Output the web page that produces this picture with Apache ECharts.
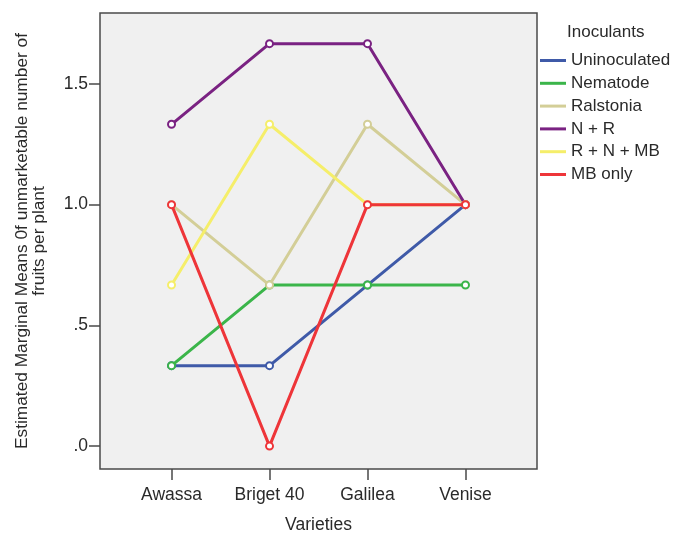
<!DOCTYPE html>
<html>
<head>
<meta charset="utf-8">
<script src="https://cdn.jsdelivr.net/npm/echarts@6/dist/echarts.min.js"></script>
<style>html,body{margin:0;padding:0;background:#fff}#c{width:689px;height:534px}</style>
</head>
<body>
<div id="c"></div>
<script>
const categories = ['Awassa', 'Briget 40', 'Galilea', 'Venise'];
const seriesNames = ['Uninoculated', 'Nematode', 'Ralstonia', 'N + R', 'R + N + MB', 'MB only'];
const uninoculated = [0.333, 0.333, 0.667, 1.0];
const nematode = [0.333, 0.667, 0.667, 0.667];
const ralstonia = [1.0, 0.667, 1.333, 1.0];
const nPlusR = [1.333, 1.667, 1.667, 1.0];
const rnmb = [0.667, 1.333, 1.0, 1.0];
const mbOnly = [1.0, 0.0, 1.0, 1.0];
const yTickValues = [0, 0.5, 1.0, 1.5];
const yTickLabels = ['.0', '.5', '1.0', '1.5'];

const seriesValues = [uninoculated, nematode, ralstonia, nPlusR, rnmb, mbOnly];
const colors = ['#3f5aa8', '#3bb54a', '#d3ce97', '#7a2282', '#f5ee6a', '#ee3539'];
const FONT = '"Liberation Sans", Arial, sans-serif';
const TXT = '#2a2a2a';
const catIdx = categories.map((c, i) => i);

const chart = echarts.init(document.getElementById('c'), null, {renderer: 'canvas'});
chart.setOption({
  animation: false,
  textStyle: {fontFamily: FONT},
  title: {
    text: 'Inoculants', left: 562, top: 19,
    textStyle: {fontFamily: FONT, fontSize: 17, fontWeight: 'normal', color: TXT}
  },
  legend: {
    orient: 'vertical', left: 535, top: 47,
    icon: 'rect', itemWidth: 26, itemHeight: 3, itemGap: 5.8,
    textStyle: {fontFamily: FONT, fontSize: 17, color: TXT, lineHeight: 16},
    data: seriesNames
  },
  grid: {
    left: 100, top: 13, width: 437, height: 456, outerBoundsMode: 'none', containLabel: false,
    show: true, backgroundColor: '#f0f0f0', borderColor: '#4a4a4a', borderWidth: 1.5
  },
  xAxis: {
    type: 'value', min: -0.73, max: 3.73,
    name: 'Varieties', nameLocation: 'middle', nameGap: 47,
    nameTextStyle: {fontFamily: FONT, fontSize: 17.5, color: TXT},
    axisLine: {show: false, onZero: false},
    splitLine: {show: false},
    axisTick: {show: true, length: 11, customValues: catIdx, lineStyle: {color: '#4a4a4a', width: 1.5}},
    axisLabel: {customValues: catIdx, margin: 17, fontFamily: FONT, fontSize: 17.5, color: TXT,
      formatter: v => categories[Math.round(v)]}
  },
  yAxis: {
    type: 'value', min: -0.095, max: 1.794,
    name: 'Estimated Marginal Means 0f unmarketable number of\nfruits per plant',
    nameLocation: 'middle', nameGap: 52,
    nameTextStyle: {fontFamily: FONT, fontSize: 17.3, color: TXT, lineHeight: 17, align: 'center'},
    axisLine: {show: false, onZero: false},
    splitLine: {show: false},
    axisTick: {show: true, length: 11, customValues: yTickValues, lineStyle: {color: '#4a4a4a', width: 1.5}},
    axisLabel: {customValues: yTickValues, margin: 12, fontFamily: FONT, fontSize: 17.5, color: TXT,
      formatter: v => yTickLabels[yTickValues.findIndex(t => Math.abs(t - v) < 1e-6)]}
  },
  series: seriesNames.map((n, i) => ({
    name: n, type: 'line', color: colors[i],
    data: seriesValues[i].map((v, j) => [j, v]),
    symbol: 'emptyCircle', symbolSize: 7,
    lineStyle: {width: 3, color: colors[i]},
    itemStyle: {color: colors[i], borderWidth: 1.5},
    z: 2 + i
  }))
});
</script>
</body>
</html>
